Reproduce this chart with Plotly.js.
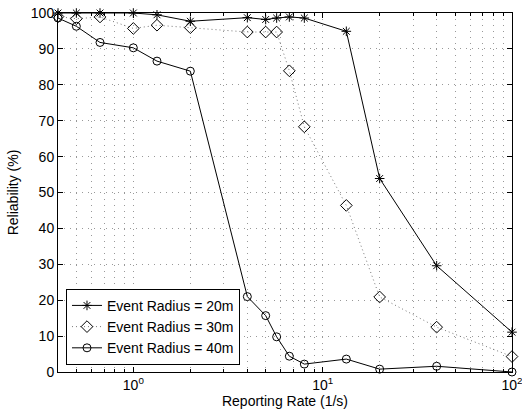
<!DOCTYPE html>
<html>
<head>
<meta charset="utf-8">
<script src="https://cdn.plot.ly/plotly-3.0.1.min.js"></script>
<style>html,body{margin:0;padding:0;background:#fff;}#chart{width:522px;height:414px;}</style>
</head>
<body>
<div id="chart"></div>
<script>
// Reporting rate (1/s)
const rates = [0.4, 0.5, 0.6667, 1, 1.3333, 2, 4, 5, 5.714, 6.667, 8, 13.333, 20, 40, 100];
// Reliability (%)
const r20 = [100, 100, 100, 100, 99.5, 97.7, 98.7, 98.2, 98.6, 98.9, 98.6, 94.9, 53.9, 29.6, 11.1];
const r30 = [99, 98.4, 98.9, 95.7, 96.6, 95.9, 94.7, 94.7, 94.7, 83.9, 68.3, 46.4, 20.9, 12.5, 4.3];
const r40 = [98.6, 96.3, 91.8, 90.3, 86.6, 83.8, 21.0, 15.7, 9.8, 4.4, 2.2, 3.6, 0.8, 1.6, 0];
const seriesNames = ['Event Radius = 20m', 'Event Radius = 30m', 'Event Radius = 40m'];
const xMajor = [1, 10, 100];
const xMajorText = ['10<sup>0</sup>', '10<sup>1</sup>', '10<sup>2</sup>'];
const xMinor = [0.5, 0.6, 0.7, 0.8, 0.9, 2, 3, 4, 5, 6, 7, 8, 9, 20, 30, 40, 50, 60, 70, 80, 90];
const yTicks = [0, 10, 20, 30, 40, 50, 60, 70, 80, 90, 100];

const font = 'Liberation Sans, Arial, Helvetica, sans-serif';
const traces = [
  {x: rates, y: r20, name: seriesNames[0], mode: 'lines+markers', cliponaxis: false,
   line: {color: '#000', width: 1},
   marker: {symbol: 'asterisk-open', size: 8, color: '#000', line: {color: '#000', width: 1}}},
  {x: rates, y: r30, name: seriesNames[1], mode: 'lines+markers', cliponaxis: false,
   line: {color: '#777', width: 1, dash: '1px,3px'},
   marker: {symbol: 'diamond-open', size: 9, color: '#000', line: {color: '#000', width: 1}}},
  {x: rates, y: r40, name: seriesNames[2], mode: 'lines+markers', cliponaxis: false,
   line: {color: '#000', width: 1},
   marker: {symbol: 'circle-open', size: 8, color: '#000', line: {color: '#000', width: 1}}}
];

const gridDash = '1px,5px';
const layout = {
  width: 522, height: 414,
  margin: {l: 58, r: 10, t: 13, b: 42},
  paper_bgcolor: '#fff', plot_bgcolor: '#fff',
  font: {family: font, size: 14, color: '#000'},
  showlegend: true,
  legend: {x: 0.0176, y: 0.02, xanchor: 'left', yanchor: 'bottom',
           bgcolor: '#fff', bordercolor: '#000', borderwidth: 1,
           font: {family: font, size: 14, color: '#000'}, tracegroupgap: 0},
  xaxis: {
    type: 'log', range: [Math.log10(0.4), 2],
    tickmode: 'array', tickvals: xMajor, ticktext: xMajorText,
    ticklabeloverflow: 'allow',
    ticks: 'inside', ticklen: 5, tickwidth: 1, tickcolor: '#000',
    showline: true, linecolor: '#000', linewidth: 1, mirror: 'ticks',
    showgrid: true, gridcolor: '#999', gridwidth: 1, griddash: gridDash,
    zeroline: false,
    tickfont: {family: font, size: 14, color: '#000'},
    minor: {tickmode: 'array', tickvals: xMinor, ticks: 'inside', ticklen: 3, tickcolor: '#000',
            showgrid: true, gridcolor: '#999', gridwidth: 1, griddash: gridDash},
    title: {text: 'Reporting Rate (1/s)', font: {family: font, size: 14, color: '#000'}, standoff: 4}
  },
  yaxis: {
    range: [0, 100], tickmode: 'array', tickvals: yTicks,
    ticklabeloverflow: 'allow',
    ticks: 'inside', ticklen: 5, tickwidth: 1, tickcolor: '#000',
    showline: true, linecolor: '#000', linewidth: 1, mirror: 'ticks',
    showgrid: true, gridcolor: '#999', gridwidth: 1, griddash: gridDash,
    zeroline: false,
    tickfont: {family: font, size: 14, color: '#000'},
    title: {text: 'Reliability (%)', font: {family: font, size: 14, color: '#000'}, standoff: 8}
  }
};
Plotly.newPlot('chart', traces, layout, {displayModeBar: false, staticPlot: true});
</script>
</body>
</html>
